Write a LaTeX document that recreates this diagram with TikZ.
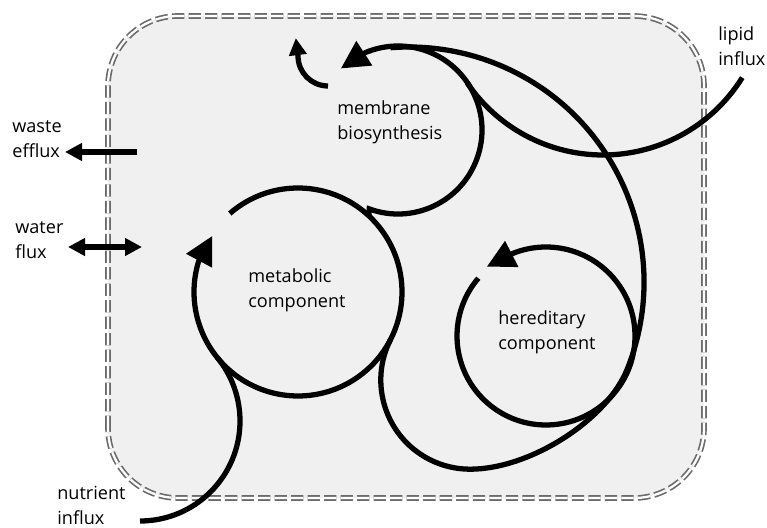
\documentclass[tikz,border=0pt]{standalone}
\usepackage{fontspec}
\setmainfont{Open Sans}
\usepackage{tikz}
\usetikzlibrary{arrows.meta, calc}

\begin{document}
\begin{tikzpicture}[
    cell/.style={draw=black!58, double=white, line width=0.95pt, double distance=1.3pt, dash pattern=on 7pt off 2.4pt, fill=black!6, rounded corners=1.4cm},
    loop/.style={line width=3pt},
    bighead/.style={loop, -{Triangle[length=5.6mm, width=5.6mm]}},
    smallhead/.style={loop, -{Triangle[length=3.4mm, width=3.4mm]}},
    bothheads/.style={loop, {Triangle[length=3.4mm, width=3.4mm]}-{Triangle[length=3.4mm, width=3.4mm]}},
    caption/.style={anchor=west, align=left, inner sep=0pt, font=\fontsize{10.3}{14.2}\selectfont}
]
    \useasboundingbox (0,0) rectangle (15.34,10.54);
    \draw[cell] (2.16,0.58) rectangle (14.08,10.22);

    % centres of the cycles
    \coordinate (met) at (5.96,4.70);
    \coordinate (mem) at (7.96,7.94);
    \coordinate (her) at (10.92,3.82);
    \coordinate (nut) at (2.80,2.12);
    \coordinate (lip) at (12.06,10.72);
    \coordinate (low) at (9.40,2.94);
    \coordinate (big) at (8.18,4.90);

    % labels
    \node[caption] (memtxt) at (6.74,8.10) {membrane\\biosynthesis};
    \node[caption] (mettxt) at (4.96,4.74) {metabolic\\component};
    \node[caption] (hertxt) at (9.96,3.90) {hereditary\\component};
    \node[caption] (liptxt) at (14.36,9.62) {lipid\\influx};
    \node[caption] (wastetxt) at (0.24,7.76) {waste\\efflux};
    \node[caption] (watertxt) at (0.30,5.74) {water\\flux};
    \node[caption] (nuttxt) at (1.14,0.44) {nutrient\\influx};

    % fluxes through the boundary
    \coordinate (wastein) at (2.74,7.50);
    \coordinate (wasteout) at (1.30,7.50);
    \coordinate (waterin) at (2.84,5.60);
    \coordinate (waterout) at (1.36,5.60);
    \draw[smallhead] (wastein) -- (wasteout);
    \draw[bothheads] (waterout) -- (waterin);

    % nutrient influx
    \draw[loop] ($(nut)+(-90:2)$) arc[start angle=-90, end angle=39.2, radius=2];
    % metabolic cycle
    \draw[bighead] ($(met)+(131:2.08)$) arc[start angle=131, end angle=-197, radius=2.08] -- ++(62:0.58);
    % membrane biosynthesis
    \draw[bighead] ($(met)+(47:2.08)$) -- ($(mem)+(250:1.68)$)
        arc[start angle=250, end angle=473, radius=1.68] -- ++(213:0.58);
    \coordinate (newmem) at (6.56,8.82);
    \draw[smallhead] (newmem) arc[start angle=-90, end angle=-180, radius=0.6] -- ++(97:0.36);
    % lipid influx
    \draw[loop] ($(lip)+(-31.9:3.28)$) arc[start angle=-31.9, end angle=-145.9, radius=3.28];
    % hereditary cycle
    \draw[bighead] ($(her)+(139.5:1.78)$) arc[start angle=139.5, end angle=472, radius=1.78] -- ++(207:0.58);
    % round the hereditary component up to the membrane
    \draw[loop] ($(low)+(152.9:1.784)$) arc[start angle=152.9, end angle=270, radius=1.784]
        .. controls +(1.2,0) and +(248.3:1.1) .. ($(big)+(-21.7:4.70)$)
        arc[start angle=-21.7, end angle=94.5, radius=4.70];
\end{tikzpicture}
\end{document}
